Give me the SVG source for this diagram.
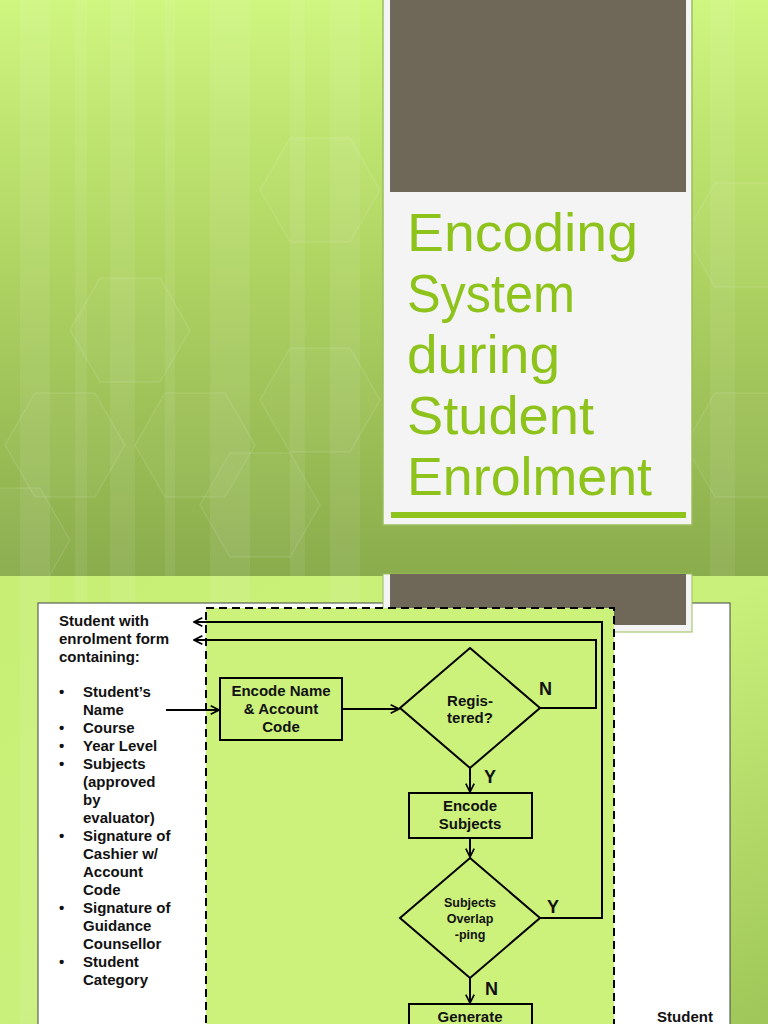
<svg xmlns="http://www.w3.org/2000/svg" width="768" height="1024" viewBox="0 0 768 1024">
<defs>
<linearGradient id="bg1" x1="0" y1="0" x2="0" y2="1">
<stop offset="0" stop-color="#cff67f"/>
<stop offset="0.45" stop-color="#b0d563"/>
<stop offset="1" stop-color="#8aac4c"/>
</linearGradient>
<linearGradient id="bg2" x1="0" y1="0" x2="1" y2="1">
<stop offset="0" stop-color="#c8ef74"/>
<stop offset="0.5" stop-color="#c9f07a"/>
<stop offset="1" stop-color="#9ec658"/>
</linearGradient>
<marker id="arr2" viewBox="0 0 12 12" refX="11" refY="6" markerWidth="10" markerHeight="10" orient="auto" markerUnits="userSpaceOnUse">
<path d="M1,1 L11,6 L1,11" fill="none" stroke="#000" stroke-width="2"/>
</marker>
<polygon id="hex" points="60,0 30,52 -30,52 -60,0 -30,-52 30,-52"/>
</defs>
<style>
.title{font-family:"Liberation Sans",Arial,sans-serif;font-size:53px;fill:#8ec31c}
.t{font-family:"Liberation Sans",Arial,sans-serif;font-weight:bold;font-size:15px;fill:#111}
.c{text-anchor:middle}
.lbl{font-family:"Liberation Sans",Arial,sans-serif;font-weight:bold;font-size:18px;fill:#111}
.box{fill:none;stroke:#000;stroke-width:2}
.ln{fill:none;stroke:#000;stroke-width:2}
.hx{fill:#ffffff;fill-opacity:0.03;stroke:#ffffff;stroke-opacity:0.1;stroke-width:1.5}
</style>

<!-- top slide background -->
<rect x="0" y="0" width="768" height="576" fill="url(#bg1)"/>
<g opacity="0.07" fill="#ffffff">
<rect x="20" y="0" width="30" height="576"/>
<rect x="75" y="0" width="12" height="576"/>
<rect x="110" y="0" width="25" height="576"/>
<rect x="165" y="0" width="10" height="576"/>
<rect x="210" y="0" width="40" height="576"/>
<rect x="290" y="0" width="15" height="576"/>
<rect x="330" y="0" width="30" height="576"/>
<rect x="710" y="0" width="25" height="576"/>
</g>
<g class="hx">
<use href="#hex" x="130" y="330"/>
<use href="#hex" x="195" y="445"/>
<use href="#hex" x="65" y="445"/>
<use href="#hex" x="320" y="190"/>
<use href="#hex" x="320" y="400"/>
<use href="#hex" x="260" y="505"/>
<use href="#hex" x="10" y="540"/>
<use href="#hex" x="745" y="235"/>
<use href="#hex" x="745" y="445"/>
</g>

<!-- title panel -->
<rect x="383" y="-2" width="309" height="527" fill="#f4f4f4" stroke="#9cbf5c" stroke-width="1.5"/>
<rect x="390" y="0" width="296" height="192" fill="#6f6757"/>
<text class="title" x="407" y="251" textLength="231" lengthAdjust="spacingAndGlyphs">Encoding</text>
<text class="title" x="407" y="312" textLength="168" lengthAdjust="spacingAndGlyphs">System</text>
<text class="title" x="407" y="373" textLength="153" lengthAdjust="spacingAndGlyphs">during</text>
<text class="title" x="407" y="434" textLength="187" lengthAdjust="spacingAndGlyphs">Student</text>
<text class="title" x="407" y="495" textLength="245" lengthAdjust="spacingAndGlyphs">Enrolment</text>
<rect x="391" y="512" width="295" height="6" fill="#8ec31c"/>

<!-- second slide background -->
<rect x="0" y="576" width="768" height="448" fill="url(#bg2)"/>
<g opacity="0.08" fill="#ffffff">
<rect x="20" y="576" width="30" height="448"/>
<rect x="75" y="576" width="12" height="448"/>
<rect x="110" y="576" width="25" height="448"/>
<rect x="210" y="576" width="40" height="448"/>
<rect x="330" y="576" width="30" height="448"/>
</g>

<!-- flowchart sheet -->
<rect x="38" y="603" width="692" height="430" fill="#ffffff" stroke="#444" stroke-width="1"/>
<rect x="383" y="574" width="309" height="58" fill="#f4f4f4" stroke="#9cbf5c" stroke-width="1"/>
<rect x="390" y="574" width="296" height="51" fill="#6f6757"/>
<rect id="lane" x="206" y="608" width="408" height="430" fill="#ccf27c" stroke="#000" stroke-width="2" stroke-dasharray="8,5"/>

<!-- input text -->
<g id="input">
<text class="t" x="59" y="626">Student with</text>
<text class="t" x="59" y="644">enrolment form</text>
<text class="t" x="59" y="662">containing:</text>
<g class="t">
<text x="59" y="697">•</text>
<text x="59" y="733">•</text>
<text x="59" y="751">•</text>
<text x="59" y="769">•</text>
<text x="59" y="841">•</text>
<text x="59" y="913">•</text>
<text x="59" y="967">•</text>
</g>
<text class="t" x="83" y="697">Student’s</text>
<text class="t" x="83" y="715">Name</text>
<text class="t" x="83" y="733">Course</text>
<text class="t" x="83" y="751">Year Level</text>
<text class="t" x="83" y="769">Subjects</text>
<text class="t" x="83" y="787">(approved</text>
<text class="t" x="83" y="805">by</text>
<text class="t" x="83" y="823">evaluator)</text>
<text class="t" x="83" y="841">Signature of</text>
<text class="t" x="83" y="859">Cashier w/</text>
<text class="t" x="83" y="877">Account</text>
<text class="t" x="83" y="895">Code</text>
<text class="t" x="83" y="913">Signature of</text>
<text class="t" x="83" y="931">Guidance</text>
<text class="t" x="83" y="949">Counsellor</text>
<text class="t" x="83" y="967">Student</text>
<text class="t" x="83" y="985">Category</text>
</g>

<!-- connectors -->
<g id="connectors">
<line class="ln" x1="166" y1="710" x2="219" y2="710" marker-end="url(#arr2)"/>
<line class="ln" x1="342" y1="709" x2="399" y2="709" marker-end="url(#arr2)"/>
<polyline class="ln" points="540,708 596,708 596,640 194,640" marker-end="url(#arr2)"/>
<polyline class="ln" points="540,918 602,918 602,622 194,622" marker-end="url(#arr2)"/>
<line class="ln" x1="470" y1="768" x2="470" y2="792" marker-end="url(#arr2)"/>
<line class="ln" x1="470" y1="838" x2="470" y2="857" marker-end="url(#arr2)"/>
<line class="ln" x1="470" y1="978" x2="470" y2="1003" marker-end="url(#arr2)"/>
<text class="lbl" x="539" y="695">N</text>
<text class="lbl" x="484" y="783">Y</text>
<text class="lbl" x="547" y="913">Y</text>
<text class="lbl" x="485" y="995">N</text>
</g>

<g id="encode-name">
<rect class="box" x="220" y="678" width="122" height="62"/>
<text class="t c" x="281" y="696">Encode Name</text>
<text class="t c" x="281" y="714">&amp; Account</text>
<text class="t c" x="281" y="732">Code</text>
</g>

<g id="registered">
<polygon class="box" points="470,648 540,708 470,768 400,708"/>
<text class="t c" x="470" y="706">Regis-</text>
<text class="t c" x="470" y="723">tered?</text>
</g>

<g id="encode-subjects">
<rect class="box" x="409" y="793" width="123" height="45"/>
<text class="t c" x="470" y="811">Encode</text>
<text class="t c" x="470" y="829">Subjects</text>
</g>

<g id="overlapping">
<polygon class="box" points="470,858 540,918 470,978 400,918"/>
<text class="t c" x="470" y="907" style="font-size:12.5px">Subjects</text>
<text class="t c" x="470" y="923" style="font-size:12.5px">Overlap</text>
<text class="t c" x="470" y="939" style="font-size:12.5px">-ping</text>
</g>

<g id="generate">
<rect class="box" x="409" y="1004" width="123" height="40"/>
<text class="t c" x="470" y="1022">Generate</text>
</g>

<g id="student-out">
<text class="t c" x="685" y="1022">Student</text>
</g>
</svg>
